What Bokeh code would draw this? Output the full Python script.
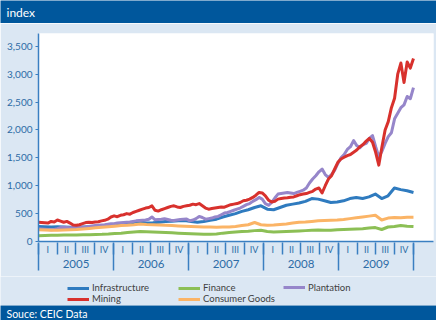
from bokeh.plotting import figure
from bokeh.models import Range1d, LinearAxis, FixedTicker, NumeralTickFormatter, Legend, LegendItem
from bokeh.layouts import column
from bokeh.embed import file_html
from bokeh.resources import INLINE
from bokeh.core.properties import value

# ---- data: sector indices, Jan 2005 - Dec 2009 ----
years = ["2005", "2006", "2007", "2008", "2009"]
quarters = ["I", "II", "III", "IV"]

# semi-monthly observations
mining = [
    345, 340, 335, 330, 360, 350, 385, 365, 345, 360, 330, 295, 290, 300, 320, 340, 345, 340, 350, 355, 370, 380, 400, 440,
    460, 445, 470, 480, 500, 490, 520, 540, 560, 580, 600, 610, 640, 560, 545, 570, 590, 610, 630, 640, 620, 610, 630, 640,
    650, 670, 660, 680, 640, 600, 580, 590, 600, 610, 620, 615, 640, 660, 670, 680, 700, 730, 740, 760, 790, 830, 880, 870,
    820, 740, 710, 720, 760, 770, 780, 785, 795, 800, 820, 840, 850, 860, 880, 900, 940, 960, 870, 1000, 1120, 1180, 1300, 1420,
    1480, 1510, 1540, 1560, 1600, 1640, 1700, 1740, 1800, 1850, 1780, 1600, 1370, 1700, 2000, 2150, 2400, 2570, 3000, 3200, 2850, 3220, 3110, 3280,
]
plantation = [
    230, 225, 220, 215, 210, 215, 230, 250, 255, 250, 245, 250, 245, 250, 255, 260, 270, 280, 285, 290, 295, 300, 310, 320,
    320, 330, 335, 340, 345, 350, 360, 370, 375, 380, 385, 400, 440, 390, 395, 400, 410, 395, 380, 375, 385, 395, 400, 405,
    370, 385, 410, 450, 430, 400, 410, 420, 440, 450, 480, 510, 520, 540, 560, 580, 600, 630, 660, 680, 720, 750, 790, 760,
    680, 650, 700, 780, 850, 860, 870, 880, 870, 860, 880, 900, 920, 960, 1050, 1120, 1180, 1250, 1300, 1200, 1150, 1200, 1280, 1400,
    1500, 1560, 1650, 1700, 1810, 1720, 1680, 1740, 1760, 1850, 1900, 1700, 1520, 1620, 1760, 1880, 1950, 2200, 2300, 2400, 2450, 2600, 2560, 2760,
]

# monthly observations
infrastructure = [
    270, 265, 260, 265, 260, 255, 255, 260, 265, 270, 280, 290,
    300, 310, 320, 340, 350, 330, 335, 345, 360, 365, 370, 375,
    360, 345, 360, 380, 400, 440, 470, 500, 540, 570, 610, 640,
    580, 570, 610, 650, 670, 690, 720, 770, 760, 730, 700, 710,
    730, 770, 790, 770, 800, 850, 770, 820, 960, 930, 910, 880,
]
finance = [
    105, 108, 110, 112, 115, 115, 118, 120, 122, 125, 128, 135,
    145, 150, 160, 170, 180, 175, 170, 165, 160, 155, 150, 145,
    140, 135, 130, 128, 135, 150, 160, 170, 180, 185, 195, 200,
    180, 170, 175, 180, 185, 190, 195, 200, 205, 200, 200, 210,
    215, 220, 225, 230, 240, 250, 215, 260, 270, 285, 275, 268,
]
consumer_goods = [
    210, 205, 200, 200, 205, 210, 215, 225, 235, 245, 255, 265,
    275, 285, 290, 300, 315, 305, 300, 295, 290, 285, 280, 275,
    270, 265, 260, 258, 255, 258, 262, 270, 285, 300, 340, 300,
    290, 295, 305, 315, 330, 345, 350, 360, 370, 375, 380, 385,
    395, 410, 425, 440, 455, 470, 385, 420, 430, 425, 435, 435,
]

y_ticks = [0, 500, 1000, 1500, 2000, 2500, 3000, 3500]

# ---- styling ----
FONT = "Lato"
DARK = "#00579c"
PAGE = "#dbe7f3"
AXIS = "#3a7fc1"
TICK_TEXT = "#2d6ca6"
COLORS = {
    "Infrastructure": "#2f7bbf",
    "Finance": "#8cbf55",
    "Plantation": "#9686ca",
    "Mining": "#d8312d",
    "Consumer Goods": "#fbb466",
}
LINE_WIDTH = 3

start_year = int(years[0])
end_year = int(years[-1]) + 1

series = [
    ("Infrastructure", infrastructure),
    ("Finance", finance),
    ("Plantation", plantation),
    ("Mining", mining),
    ("Consumer Goods", consumer_goods),
]


def time_axis(n):
    """Evenly spaced observation times (fractional years) from Jan 2005 to end of 2009."""
    span = end_year - start_year
    return [start_year + span * i / (n - 1) for i in range(n)]


def strip(height, fill):
    """A full-width, axis-less figure used for the banners and the legend row."""
    s = figure(width=436, height=height, x_range=(0, 436), y_range=(0, height),
               toolbar_location=None, output_backend="svg",
               x_axis_location=None, y_axis_location=None, min_border=0)
    s.frame_align = False
    s.grid.visible = False
    s.outline_line_color = None
    s.background_fill_color = fill
    s.border_fill_color = fill
    return s


def banner(height, label, y, size):
    b = strip(height, DARK)
    b.text(x=[6], y=[y], text=[label], text_font=value(FONT), text_font_size=size,
           text_color="white", text_baseline="middle")
    return b


header = banner(23, "index", 11, "12px")
footer = banner(15, "Souce: CEIC Data", 6.5, "10.5px")

# ---- main chart ----
p = figure(width=436, height=253, x_range=Range1d(start_year, 2010.267), y_range=Range1d(0, 3730),
           toolbar_location=None, output_backend="svg",
           min_border_left=38, min_border_right=3, min_border_top=10, min_border_bottom=35)
p.grid.visible = False
p.outline_line_color = None
p.background_fill_color = "white"
p.border_fill_color = PAGE

for name, vals in series:
    p.line(time_axis(len(vals)), vals, line_color=COLORS[name],
           line_width=LINE_WIDTH, line_join="round")

# y axis
yax = p.yaxis[0]
yax.ticker = FixedTicker(ticks=y_ticks, minor_ticks=[])
yax.formatter = NumeralTickFormatter(format="0,0")
yax.axis_line_color = AXIS
yax.axis_line_width = 1.5
yax.major_tick_line_color = AXIS
yax.major_tick_in = 0
yax.major_tick_out = 3
yax.minor_tick_line_color = None
yax.major_label_text_font = FONT
yax.major_label_text_font_size = "10px"
yax.major_label_text_color = TICK_TEXT
yax.major_label_standoff = 3

# quarter axis: labels centred in each quarter, separators at quarter boundaries
q_mid, q_bounds, q_labels = [], [], {}
for yi, yr in enumerate(years):
    for qi, q in enumerate(quarters):
        mid = start_year + yi + (qi + 0.5) / 4
        q_mid.append(mid)
        q_labels[mid] = q
        q_bounds.append(start_year + yi + qi / 4)
q_bounds.append(end_year)

xq = p.xaxis[0]
xq.ticker = FixedTicker(ticks=q_mid, minor_ticks=q_bounds)
xq.major_label_overrides = q_labels
xq.axis_line_color = AXIS
xq.axis_line_width = 1.5
xq.major_tick_line_color = None
xq.major_tick_in = 0
xq.major_tick_out = 0
xq.minor_tick_line_color = AXIS
xq.minor_tick_line_width = 1.5
xq.minor_tick_in = -1
xq.minor_tick_out = 13
xq.major_label_text_font = FONT
xq.major_label_text_font_size = "9px"
xq.major_label_text_color = TICK_TEXT
xq.major_label_standoff = -11

# year axis: labels centred in each year, long separators at year boundaries
y_mid = [start_year + i + 0.5 for i in range(len(years))]
y_bounds = [start_year + i for i in range(len(years) + 1)]
xy = LinearAxis(ticker=FixedTicker(ticks=y_mid, minor_ticks=y_bounds),
                major_label_overrides={m: yr for m, yr in zip(y_mid, years)})
xy.axis_line_color = None
xy.major_tick_line_color = None
xy.major_tick_in = 0
xy.major_tick_out = 0
xy.minor_tick_line_color = AXIS
xy.minor_tick_line_width = 1.5
xy.minor_tick_in = 14
xy.minor_tick_out = 13
xy.major_label_text_font = FONT
xy.major_label_text_font_size = "11.5px"
xy.major_label_text_color = TICK_TEXT
xy.major_label_standoff = -11
p.add_layout(xy, "below")

# ---- legend row: three columns of keys ----
# key renderers sit outside the strip's visible range; only their legend swatches show
leg_fig = strip(29, PAGE)
keys = {name: leg_fig.line([-20, -10], [-20, -20], line_color=COLORS[name], line_width=LINE_WIDTH)
        for name, _ in series}
legend_columns = [
    (67, 0.75, ["Infrastructure", "Mining"]),
    (178, 0.75, ["Finance", "Consumer Goods"]),
    (283, 12.25, ["Plantation"]),
]
for vx, vy, names in legend_columns:
    leg = Legend(items=[LegendItem(label=n, renderers=[keys[n]]) for n in names],
                 location=(vx, vy), orientation="vertical",
                 padding=0, margin=0, spacing=0,
                 glyph_width=22, glyph_height=10, label_height=10, label_standoff=3,
                 label_text_font=FONT, label_text_font_size="9.5px", label_text_color="#404040",
                 background_fill_alpha=0, border_line_color=None)
    leg_fig.add_layout(leg, "center")

layout = column(header, p, leg_fig, footer, spacing=0)
open("out.html", "w").write(file_html(layout, INLINE))
